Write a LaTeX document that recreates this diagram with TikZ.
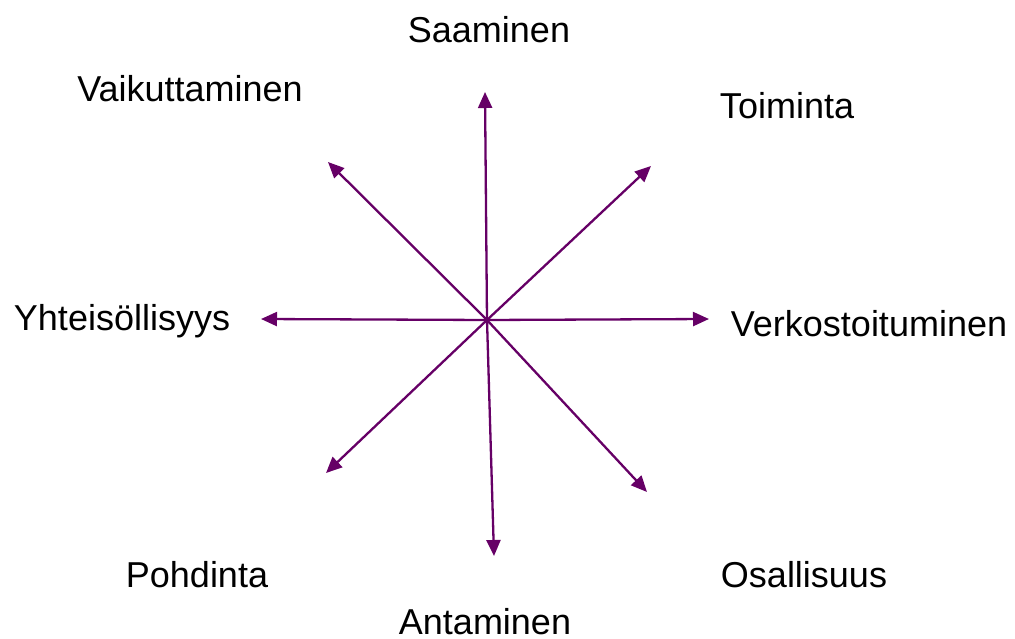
\documentclass[tikz,border=0pt]{standalone}
\usepackage{fontspec}
\setmainfont{Liberation Sans}
\usetikzlibrary{arrows.meta}
\definecolor{arrowpurple}{RGB}{102,0,102}
\tikzset{
  spoke/.style={draw=arrowpurple, line width=2.3pt, -{Triangle[length=16pt,width=14pt]}},
  lbl/.style={anchor=base, inner sep=0pt, font=\fontsize{36}{40}\selectfont}
}
\begin{document}
\begin{tikzpicture}[x=1pt,y=1pt]
\useasboundingbox (0,0) rectangle (1015,-639);
\coordinate (c) at (487,-320);
\coordinate (eN) at (485,-92);
\coordinate (eS) at (494,-556);
\coordinate (eE) at (709,-319);
\coordinate (eW) at (261,-319);
\coordinate (eNE) at (651,-166);
\coordinate (eNW) at (328,-162);
\coordinate (eSW) at (326,-473);
\coordinate (eSE) at (647,-492);
\foreach \e in {eN,eS,eE,eW,eNE,eNW,eSW,eSE}
  \draw[spoke] (c) -- (\e);
\node[lbl] (saa) at (489,-43) {Saaminen};
\node[lbl] (vai) at (190,-102) {Vaikuttaminen};
\node[lbl] (toi) at (787,-119) {Toiminta};
\node[lbl] (yht) at (122,-330) {Yhteisöllisyys};
\node[lbl] (ver) at (869,-336) {Verkostoituminen};
\node[lbl] (poh) at (197,-587) {Pohdinta};
\node[lbl] (osa) at (804,-587) {Osallisuus};
\node[lbl] (ant) at (485,-634) {Antaminen};
\end{tikzpicture}
\end{document}
